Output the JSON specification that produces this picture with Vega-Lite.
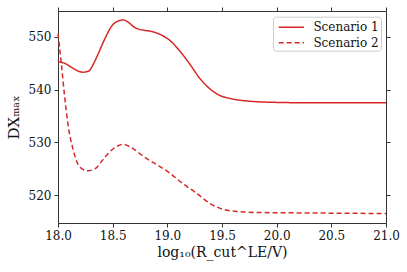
{
  "$schema": "https://vega.github.io/schema/vega-lite/v6.json",
  "autosize": "none",
  "width": 328,
  "height": 212,
  "padding": {"left": 58, "top": 11, "right": 21, "bottom": 49},
  "background": "white",
  "config": {
    "font": "DejaVu Serif",
    "view": {"stroke": "#333", "strokeWidth": 1},
    "axis": {
      "labelFont": "DejaVu Serif", "labelFontSize": 12, "labelColor": "#111",
      "titleFont": "DejaVu Serif", "titleFontWeight": "normal", "titleColor": "#111",
      "grid": false, "domain": false, "tickColor": "#333", "tickSize": 4, "tickWidth": 1
    },
    "legend": {
      "title": null, "orient": "none", "legendX": 215, "legendY": 5.7,
      "fillColor": "white", "strokeColor": "#ccc", "cornerRadius": 3, "padding": 2,
      "symbolType": "M-0.64,0H2.73", "symbolSize": 225, "symbolStrokeWidth": 1.5,
      "labelFont": "DejaVu Serif", "labelFontSize": 12, "labelColor": "#111",
      "labelOffset": 21.4, "rowPadding": 0.5
    }
  },
  "data": {"values": [
    {"x": 18.0, "y": 545.4, "s": "Scenario 1"},
    {"x": 18.006, "y": 545.3, "s": "Scenario 1"},
    {"x": 18.06, "y": 545.0, "s": "Scenario 1"},
    {"x": 18.125, "y": 544.2, "s": "Scenario 1"},
    {"x": 18.186, "y": 543.5, "s": "Scenario 1"},
    {"x": 18.23, "y": 543.3, "s": "Scenario 1"},
    {"x": 18.28, "y": 543.5, "s": "Scenario 1"},
    {"x": 18.32, "y": 544.7, "s": "Scenario 1"},
    {"x": 18.37, "y": 546.9, "s": "Scenario 1"},
    {"x": 18.43, "y": 549.7, "s": "Scenario 1"},
    {"x": 18.49, "y": 552.0, "s": "Scenario 1"},
    {"x": 18.55, "y": 553.0, "s": "Scenario 1"},
    {"x": 18.6, "y": 553.2, "s": "Scenario 1"},
    {"x": 18.64, "y": 552.8, "s": "Scenario 1"},
    {"x": 18.7, "y": 551.8, "s": "Scenario 1"},
    {"x": 18.77, "y": 551.3, "s": "Scenario 1"},
    {"x": 18.86, "y": 551.0, "s": "Scenario 1"},
    {"x": 18.95, "y": 550.3, "s": "Scenario 1"},
    {"x": 19.03, "y": 549.2, "s": "Scenario 1"},
    {"x": 19.11, "y": 547.4, "s": "Scenario 1"},
    {"x": 19.2, "y": 545.0, "s": "Scenario 1"},
    {"x": 19.29, "y": 542.3, "s": "Scenario 1"},
    {"x": 19.38, "y": 540.3, "s": "Scenario 1"},
    {"x": 19.47, "y": 539.0, "s": "Scenario 1"},
    {"x": 19.6, "y": 538.2, "s": "Scenario 1"},
    {"x": 19.75, "y": 537.8, "s": "Scenario 1"},
    {"x": 19.94, "y": 537.6, "s": "Scenario 1"},
    {"x": 20.3, "y": 537.5, "s": "Scenario 1"},
    {"x": 21.0, "y": 537.5, "s": "Scenario 1"},
    {"x": 18.0, "y": 550.6, "s": "Scenario 2"},
    {"x": 18.03, "y": 545.0, "s": "Scenario 2"},
    {"x": 18.06, "y": 538.8, "s": "Scenario 2"},
    {"x": 18.09, "y": 533.6, "s": "Scenario 2"},
    {"x": 18.14, "y": 528.5, "s": "Scenario 2"},
    {"x": 18.2, "y": 525.3, "s": "Scenario 2"},
    {"x": 18.27, "y": 524.6, "s": "Scenario 2"},
    {"x": 18.34, "y": 525.0, "s": "Scenario 2"},
    {"x": 18.43, "y": 527.2, "s": "Scenario 2"},
    {"x": 18.52, "y": 529.0, "s": "Scenario 2"},
    {"x": 18.6, "y": 529.6, "s": "Scenario 2"},
    {"x": 18.67, "y": 529.0, "s": "Scenario 2"},
    {"x": 18.79, "y": 527.2, "s": "Scenario 2"},
    {"x": 18.91, "y": 525.7, "s": "Scenario 2"},
    {"x": 19.02, "y": 524.2, "s": "Scenario 2"},
    {"x": 19.14, "y": 522.2, "s": "Scenario 2"},
    {"x": 19.27, "y": 520.3, "s": "Scenario 2"},
    {"x": 19.39, "y": 518.4, "s": "Scenario 2"},
    {"x": 19.51, "y": 517.3, "s": "Scenario 2"},
    {"x": 19.63, "y": 516.9, "s": "Scenario 2"},
    {"x": 19.82, "y": 516.7, "s": "Scenario 2"},
    {"x": 20.3, "y": 516.6, "s": "Scenario 2"},
    {"x": 21.0, "y": 516.5, "s": "Scenario 2"}
  ]},
  "layer": [
    {
      "mark": {"type": "line", "strokeWidth": 1.5, "interpolate": "monotone"},
      "encoding": {
        "x": {"field": "x", "type": "quantitative",
              "scale": {"domain": [18, 21], "nice": false, "zero": false},
              "axis": {"orient": "bottom", "values": [18, 18.5, 19, 19.5, 20, 20.5, 21], "format": ".1f",
                       "title": "log₁₀(R_cut^LE/V)", "titleFontSize": 14, "titlePadding": 4, "labelPadding": 3, "labelFlush": false}},
        "y": {"field": "y", "type": "quantitative",
              "scale": {"domain": [514.7, 554.9], "nice": false, "zero": false},
              "axis": {"orient": "left", "values": [520, 530, 540, 550],
                       "title": "DXₘₐₓ", "titleFontSize": 15, "titlePadding": 7, "labelPadding": 3}},
        "color": {"field": "s", "type": "nominal",
                  "scale": {"range": ["#d62728", "#d62728"]}},
        "strokeDash": {"field": "s", "type": "nominal",
                       "scale": {"range": [[1, 0], [5, 3]]}}
      }
    },
    {
      "mark": {"type": "line", "opacity": 0},
      "encoding": {
        "x": {"field": "x", "type": "quantitative",
              "axis": {"orient": "top", "values": [18, 18.5, 19, 19.5, 20, 20.5, 21], "labels": false, "title": null}},
        "y": {"field": "y", "type": "quantitative",
              "axis": {"orient": "right", "values": [520, 530, 540, 550], "labels": false, "title": null}},
        "detail": {"field": "s"}
      }
    }
  ],
  "resolve": {"axis": {"x": "independent", "y": "independent"}}
}
